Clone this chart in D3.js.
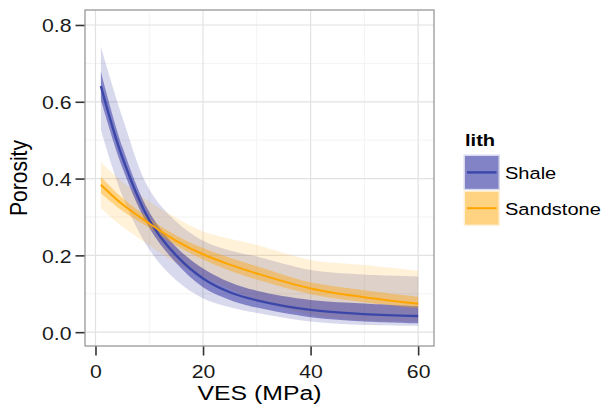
<!DOCTYPE html>
<html>
<head>
<meta charset="utf-8">
<script src="https://cdn.jsdelivr.net/npm/d3@7"></script>
<style>
  html, body { margin: 0; padding: 0; background: #fff; }
  svg { display: block; font-family: "Liberation Sans", Arial, Helvetica, sans-serif; }
</style>
</head>
<body>
<svg id="chart" width="603" height="407"></svg>
<script>
// Fitted porosity vs vertical effective stress, per lithology
const ves = [1, 5, 10, 15, 20, 25, 30, 40, 50, 60];

const shaleFit     = [0.641, 0.455, 0.292, 0.200, 0.140, 0.104, 0.083, 0.058, 0.047, 0.042];
const shaleInnerLo = [0.605, 0.428, 0.272, 0.180, 0.117, 0.084, 0.064, 0.039, 0.028, 0.023];
const shaleInnerHi = [0.679, 0.483, 0.313, 0.222, 0.166, 0.130, 0.108, 0.084, 0.075, 0.068];
const shaleOuterLo = [0.527, 0.355, 0.215, 0.135, 0.088, 0.065, 0.050, 0.028, 0.019, 0.017];
const shaleOuterHi = [0.744, 0.560, 0.372, 0.288, 0.238, 0.213, 0.197, 0.162, 0.150, 0.145];

const sandFit     = [0.384, 0.333, 0.283, 0.238, 0.203, 0.176, 0.153, 0.114, 0.091, 0.074];
const sandInnerLo = [0.362, 0.316, 0.271, 0.226, 0.189, 0.160, 0.137, 0.099, 0.078, 0.063];
const sandInnerHi = [0.405, 0.350, 0.296, 0.252, 0.219, 0.194, 0.172, 0.130, 0.109, 0.092];
const sandOuterLo = [0.323, 0.275, 0.226, 0.180, 0.144, 0.112, 0.085, 0.045, 0.030, 0.028];
const sandOuterHi = [0.443, 0.392, 0.340, 0.298, 0.262, 0.243, 0.227, 0.188, 0.175, 0.160];

const lithNames = ["Shale", "Sandstone"];
const xTicks = [0, 20, 40, 60];
const xMinor = [10, 30, 50];
const yTicks = [0.0, 0.2, 0.4, 0.6, 0.8];
const yMinor = [0.1, 0.3, 0.5, 0.7];

// Layout
const panel = { left: 85, right: 434, top: 10, bottom: 346 };
const SX = 1.18; // horizontal text stretch
const fills = { Shale: "#00008B", Sandstone: "#FFA500" };
const lineCols = { Shale: "#3b47a8", Sandstone: "#FFA500" };
const lineW = { Shale: 2.4, Sandstone: 2 };
const curve = d3.curveCatmullRom.alpha(0.5);

const svg = d3.select("#chart");

const x = d3.scaleLinear().domain([-1.95, 62.95]).range([panel.left, panel.right]);
const y = d3.scaleLinear().domain([-0.036, 0.839]).range([panel.bottom, panel.top]);

const series = [
  { name: "Shale", fit: shaleFit, iLo: shaleInnerLo, iHi: shaleInnerHi, oLo: shaleOuterLo, oHi: shaleOuterHi },
  { name: "Sandstone", fit: sandFit, iLo: sandInnerLo, iHi: sandInnerHi, oLo: sandOuterLo, oHi: sandOuterHi }
];

// Grid
const grid = svg.append("g");
grid.selectAll(".xmin").data(xMinor).join("line")
  .attr("x1", d => x(d)).attr("x2", d => x(d))
  .attr("y1", panel.top).attr("y2", panel.bottom)
  .attr("stroke", "#f3f3f3").attr("stroke-width", 1);
grid.selectAll(".ymin").data(yMinor).join("line")
  .attr("y1", d => y(d)).attr("y2", d => y(d))
  .attr("x1", panel.left).attr("x2", panel.right)
  .attr("stroke", "#f3f3f3").attr("stroke-width", 1);
grid.selectAll(".xmaj").data(xTicks).join("line")
  .attr("x1", d => x(d)).attr("x2", d => x(d))
  .attr("y1", panel.top).attr("y2", panel.bottom)
  .attr("stroke", "#e2e2e2").attr("stroke-width", 1.2);
grid.selectAll(".ymaj").data(yTicks).join("line")
  .attr("y1", d => y(d)).attr("y2", d => y(d))
  .attr("x1", panel.left).attr("x2", panel.right)
  .attr("stroke", "#e2e2e2").attr("stroke-width", 1.2);

const band = (lo, hi) => d3.area()
  .x((d, i) => x(ves[i]))
  .y0((d, i) => y(lo[i]))
  .y1((d, i) => y(hi[i]))
  .curve(curve);

const line = (vals) => d3.line()
  .x((d, i) => x(ves[i]))
  .y((d, i) => y(vals[i]))
  .curve(curve);

const plot = svg.append("g");
// Prediction bands
series.forEach(s => {
  plot.append("path").attr("d", band(s.oLo, s.oHi)(ves))
    .attr("fill", fills[s.name]).attr("fill-opacity", 0.15);
});
// Confidence bands
series.forEach(s => {
  plot.append("path").attr("d", band(s.iLo, s.iHi)(ves))
    .attr("fill", fills[s.name]).attr("fill-opacity", 0.4);
});
// Fitted curves
series.forEach(s => {
  plot.append("path").attr("d", line(s.fit)(ves))
    .attr("fill", "none").attr("stroke", lineCols[s.name])
    .attr("stroke-width", lineW[s.name]).attr("stroke-linecap", "butt");
});

// Panel border
svg.append("rect")
  .attr("x", panel.left).attr("y", panel.top)
  .attr("width", panel.right - panel.left).attr("height", panel.bottom - panel.top)
  .attr("fill", "none").attr("stroke", "#8f8f8f").attr("stroke-width", 1.2);

// Axes
const yAxis = svg.append("g")
  .attr("transform", `translate(${panel.left - 0.5},0)`)
  .call(d3.axisLeft(y).tickValues(yTicks).tickFormat(d3.format(".1f")).tickSize(9).tickPadding(0));
yAxis.select(".domain").remove();
yAxis.selectAll(".tick line").attr("stroke", "#333").attr("stroke-width", 1.6);
yAxis.selectAll(".tick text")
  .attr("x", 0).attr("dy", null).attr("y", 0)
  .attr("transform", `translate(-13,7) scale(${SX},1)`)
  .attr("text-anchor", "end")
  .style("font-size", "18px").style("font-family", "Liberation Sans, Arial, sans-serif")
  .attr("fill", "#1a1a1a");

const xAxis = svg.append("g")
  .attr("transform", `translate(0,${panel.bottom + 0.5})`)
  .call(d3.axisBottom(x).tickValues(xTicks).tickSize(9).tickPadding(0));
xAxis.select(".domain").remove();
xAxis.selectAll(".tick line").attr("stroke", "#333").attr("stroke-width", 1.6);
xAxis.selectAll(".tick text")
  .attr("y", 0).attr("dy", null)
  .attr("transform", `translate(0,31) scale(${SX},1)`)
  .attr("text-anchor", "middle")
  .style("font-size", "18px").style("font-family", "Liberation Sans, Arial, sans-serif")
  .attr("fill", "#1a1a1a");

// Axis titles
svg.append("text")
  .attr("transform", `translate(${(panel.left + panel.right) / 2},400) scale(${SX},1)`)
  .attr("text-anchor", "middle").style("font-size", "21px").attr("fill", "#000")
  .text("VES (MPa)");
svg.append("text")
  .attr("transform", `translate(27,${(panel.top + panel.bottom) / 2}) scale(${SX},1) rotate(-90)`)
  .attr("text-anchor", "middle").style("font-size", "21px").attr("fill", "#000")
  .text("Porosity");

// Legend
const leg = svg.append("g").attr("transform", "translate(463.5,154.5)");
leg.append("text")
  .attr("transform", `translate(1.5,-8.5) scale(${SX},1)`)
  .style("font-size", "17px").style("font-weight", "bold").attr("fill", "#000")
  .text("lith");
const keyW = 36.5, keyH = 35.8;
lithNames.forEach((name, i) => {
  const k = leg.append("g").attr("transform", `translate(0,${i * keyH})`);
  k.append("rect").attr("width", keyW).attr("height", keyH).attr("fill", "#fff");
  k.append("rect").attr("width", keyW).attr("height", keyH)
    .attr("fill", fills[name]).attr("fill-opacity", 0.15);
  k.append("rect").attr("x", 1.5).attr("y", 1.5).attr("width", keyW - 3).attr("height", keyH - 3)
    .attr("fill", fills[name]).attr("fill-opacity", 0.4);
  k.append("line").attr("x1", 3.5).attr("x2", keyW - 3.5)
    .attr("y1", keyH / 2).attr("y2", keyH / 2)
    .attr("stroke", lineCols[name]).attr("stroke-width", lineW[name]);
  k.append("text")
    .attr("transform", `translate(${keyW + 5},${keyH / 2 + 7}) scale(${SX},1)`)
    .style("font-size", "17px").attr("fill", "#000")
    .text(name);
});
</script>
</body>
</html>
